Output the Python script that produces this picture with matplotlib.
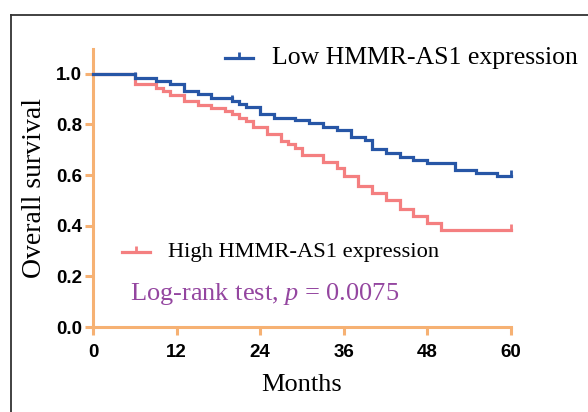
import matplotlib
matplotlib.use("Agg")
import matplotlib.pyplot as plt
from matplotlib.path import Path
from matplotlib.lines import Line2D
import numpy as np

# ---- data ----
low_times = [0, 6, 9, 11, 13, 15, 17, 20, 21, 22, 24, 26, 29, 31, 33, 35, 37, 39, 40,
             42, 44, 46, 48, 52, 55, 58]
low_surv = [1.0, 0.985, 0.972, 0.960, 0.933, 0.919, 0.905, 0.892, 0.879, 0.867, 0.841,
            0.827, 0.818, 0.804, 0.790, 0.779, 0.750, 0.739, 0.702, 0.687, 0.673,
            0.660, 0.647, 0.621, 0.607, 0.597]
high_times = [0, 6, 9, 10, 11, 13, 15, 17, 19, 20, 21, 22, 23, 25, 27, 28, 29, 30, 33,
              35, 36, 38, 40, 42, 44, 46, 48, 50]
high_surv = [1.0, 0.959, 0.943, 0.933, 0.917, 0.891, 0.877, 0.864, 0.854, 0.841, 0.827,
             0.815, 0.789, 0.763, 0.735, 0.722, 0.706, 0.680, 0.653, 0.627, 0.598,
             0.555, 0.528, 0.502, 0.467, 0.439, 0.411, 0.383]
end_time = 60
low_censor = [6, 20, 60]
high_censor = [60]
x_ticks = [0, 12, 24, 36, 48, 60]
y_ticks = [0.0, 0.2, 0.4, 0.6, 0.8, 1.0]
low_label = "Low HMMR-AS1 expression"
high_label = "High HMMR-AS1 expression"
stat_text = "Log-rank test, $p$ = 0.0075"

BLUE = "#2756A6"
RED = "#F47F80"
ORANGE = "#F6B173"
PURPLE = "#9446A0"

serif = ["Liberation Serif", "DejaVu Serif"]
sans = ["Liberation Sans", "DejaVu Sans"]
plt.rcParams["mathtext.fontset"] = "custom"
plt.rcParams["mathtext.it"] = "Liberation Serif:italic"
plt.rcParams["mathtext.rm"] = "Liberation Serif"

up_tick = Path([(0, 0), (0, 1)], [Path.MOVETO, Path.LINETO])

fig = plt.figure(figsize=(5.88, 4.12), dpi=100)
ax = fig.add_axes([93 / 588, 1 - 327 / 412, (511 - 93) / 588, (327 - 48.5) / 412])

def step_xy(times, surv):
    return list(times) + [end_time], list(surv) + [surv[-1]]

def surv_at(times, surv, t):
    idx = np.searchsorted(times, t, side="right") - 1
    return surv[idx]

for times, surv, color, cens in [(high_times, high_surv, RED, high_censor),
                                  (low_times, low_surv, BLUE, low_censor)]:
    xs, ys = step_xy(times, surv)
    ax.step(xs, ys, where="post", color=color, lw=2.3, solid_joinstyle="miter",
            clip_on=False, zorder=3)
    cy = [surv_at(times, surv, t) for t in cens]
    ax.plot(cens, cy, ls="none", marker=up_tick, ms=9, mew=2.0, color=color,
            clip_on=False, zorder=3)

ax.set_xlim(0, 60)
ax.set_ylim(0, 1.1)
ax.set_xticks(x_ticks)
ax.set_yticks(y_ticks)
ax.set_xticklabels([str(v) for v in x_ticks], fontfamily=sans, fontweight="bold", fontsize=13.5)
ax.set_yticklabels([f"{v:.1f}" for v in y_ticks], fontfamily=sans, fontweight="bold", fontsize=13.5)
for s in ["top", "right"]:
    ax.spines[s].set_visible(False)
for s in ["left", "bottom"]:
    ax.spines[s].set_color(ORANGE)
    ax.spines[s].set_linewidth(2.2)
ax.spines["left"].set_bounds(0, 1.1)
ax.tick_params(axis="both", color=ORANGE, width=2.2, length=5.5, direction="out")
ax.tick_params(axis="y", pad=2.5)
ax.tick_params(axis="x", pad=7)
ax.patch.set_alpha(0)

ax.set_xlabel("Months", fontfamily=serif, fontsize=19, labelpad=9)
ax.set_ylabel("Overall survival", fontfamily=serif, fontsize=20, labelpad=6)

# legend entries
ax.plot([18.9, 23.0], [1.063, 1.063], color=BLUE, lw=2.3, clip_on=False)
ax.plot([21.0], [1.063], ls="none", marker=up_tick, ms=9, mew=2.0, color=BLUE, clip_on=False)
ax.text(25.7, 1.063, low_label, fontfamily=serif, fontsize=18.5, va="center", ha="left")

ax.plot([4.2, 8.2], [0.296, 0.296], color=RED, lw=2.3, clip_on=False)
ax.plot([6.2], [0.296], ls="none", marker=up_tick, ms=9, mew=2.0, color=RED, clip_on=False)
ax.text(10.8, 0.296, high_label, fontfamily=serif, fontsize=16.2, va="center", ha="left")

ax.text(5.3, 0.13, stat_text, fontfamily=serif, fontsize=19, color=PURPLE,
        va="center", ha="left")

# outer frame
fig.add_artist(Line2D([10.5 / 588, 1.0], [1 - 14.5 / 412, 1 - 14.5 / 412],
                      transform=fig.transFigure, color="#333333", lw=1.3))
fig.add_artist(Line2D([10.5 / 588, 10.5 / 588], [0, 1 - 14.5 / 412],
                      transform=fig.transFigure, color="#333333", lw=1.3))

fig.savefig("out.png", dpi=100)
